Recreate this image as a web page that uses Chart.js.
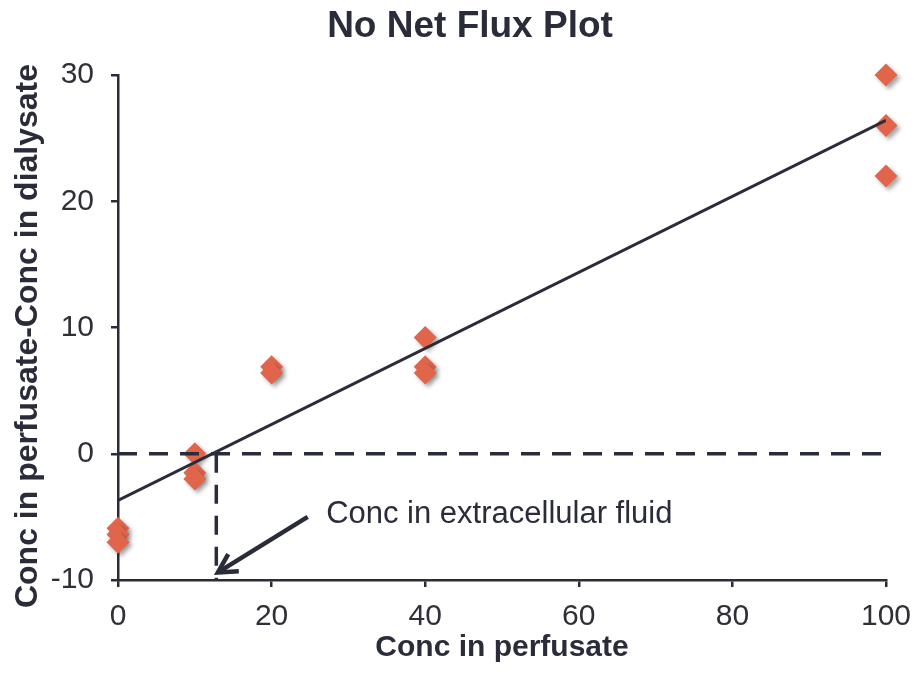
<!DOCTYPE html>
<html lang="en">
<head>
<meta charset="UTF-8">
<title>No Net Flux Plot</title>
<script src="https://cdn.jsdelivr.net/npm/chart.js"></script>
<style>
  html, body { margin: 0; padding: 0; background: #fff; }
  .wrap { width: 918px; height: 675px; position: relative; }
</style>
</head>
<body>
<div class="wrap"><canvas id="flux"></canvas></div>
<script>
// measured points: concentration in perfusate vs (perfusate - dialysate)
const concPerfusate = [0, 0, 0, 10, 10, 10, 20, 20, 40, 40, 40, 100, 100, 100];
const concDifference = [-5.9, -6.4, -7.0, 0.0, -1.5, -2.0, 6.9, 6.4, 9.2, 6.9, 6.4, 30, 26, 22];

// linear fit end points
const trendX = [0, 100];
const trendY = [-3.7, 26.4];

// zero-flux point (conc in extracellular fluid)
const ecfConc = 12.8;

const xTicks = [0, 20, 40, 60, 80, 100];
const yTicks = [-10, 0, 10, 20, 30];

const INK = '#2b2c3a';
const MARK = '#e0654b';
const FONT = '"Liberation Sans", Arial, Helvetica, sans-serif';

const points = concPerfusate.map((x, i) => ({ x: x, y: concDifference[i] }));
const trend = trendX.map((x, i) => ({ x: x, y: trendY[i] }));

// titles, arrow label and soft shadow under the diamonds
const extras = {
  id: 'extras',
  beforeDatasetDraw(chart, args) {
    if (args.index !== 3) return;
    const ctx = chart.ctx;
    ctx.save();
    ctx.shadowColor = 'rgba(0,0,0,0.35)';
    ctx.shadowBlur = 4;
    ctx.shadowOffsetX = 3;
    ctx.shadowOffsetY = 3;
  },
  afterDatasetDraw(chart, args) {
    if (args.index !== 3) return;
    chart.ctx.restore();
  },
  afterDraw(chart) {
    const ctx = chart.ctx;
    const xs = chart.scales.x, ys = chart.scales.y;
    ctx.save();
    ctx.fillStyle = INK;
    ctx.font = 'bold 37px ' + FONT;
    ctx.textAlign = 'center';
    ctx.textBaseline = 'middle';
    ctx.fillText('No Net Flux Plot', 470, 27);

    // y axis title, rotated
    ctx.save();
    ctx.translate(28, 336);
    ctx.rotate(-Math.PI / 2);
    ctx.font = 'bold 32px ' + FONT;
    ctx.fillText('Conc in perfusate-Conc in dialysate', 0, 0);
    ctx.restore();

    // arrow pointing at the zero-flux concentration
    const tailX = xs.getPixelForValue(24.7), tailY = ys.getPixelForValue(-5.0);
    const tipX = xs.getPixelForValue(13.0), tipY = ys.getPixelForValue(-9.4);
    const ang = Math.atan2(tailY - tipY, tailX - tipX);
    const barb = 21, spread = 0.5;
    ctx.strokeStyle = INK;
    ctx.lineWidth = 4.5;
    ctx.lineCap = 'butt';
    ctx.lineJoin = 'miter';
    ctx.beginPath();
    ctx.moveTo(tailX, tailY);
    ctx.lineTo(tipX + 2 * Math.cos(ang), tipY + 2 * Math.sin(ang));
    ctx.stroke();
    ctx.beginPath();
    ctx.moveTo(tipX + barb * Math.cos(ang - spread), tipY + barb * Math.sin(ang - spread));
    ctx.lineTo(tipX, tipY);
    ctx.lineTo(tipX + barb * Math.cos(ang + spread), tipY + barb * Math.sin(ang + spread));
    ctx.stroke();

    ctx.font = '31px ' + FONT;
    ctx.textAlign = 'left';
    ctx.textBaseline = 'alphabetic';
    ctx.fillText('Conc in extracellular fluid', xs.getPixelForValue(27.1), ys.getPixelForValue(-5.47));
    ctx.restore();
  }
};

new Chart(document.getElementById('flux'), {
  type: 'scatter',
  data: {
    datasets: [
      {
        label: 'fit',
        type: 'line',
        data: trend,
        borderColor: INK,
        borderWidth: 3,
        pointRadius: 0,
        fill: false,
        order: 0
      },
      {
        label: 'zero line',
        type: 'line',
        data: [{ x: xTicks[0], y: 0 }, { x: xTicks[xTicks.length - 1], y: 0 }],
        borderColor: INK,
        borderWidth: 3.5,
        borderDash: [19, 12],
        pointRadius: 0,
        fill: false,
        order: 1
      },
      {
        label: 'ecf drop',
        type: 'line',
        data: [{ x: ecfConc, y: 0 }, { x: ecfConc, y: yTicks[0] }],
        borderColor: INK,
        borderWidth: 3.5,
        borderDash: [19, 12],
        pointRadius: 0,
        fill: false,
        order: 1
      },
      {
        label: 'samples',
        data: points,
        pointStyle: 'rectRot',
        pointRadius: 11.5,
        pointHoverRadius: 11.5,
        backgroundColor: MARK,
        borderColor: MARK,
        borderWidth: 0,
        clip: false,
        order: 2
      }
    ]
  },
  options: {
    responsive: true,
    maintainAspectRatio: false,
    animation: false,
    layout: { padding: { top: 75, right: 32, left: 0, bottom: 0 } },
    plugins: {
      legend: { display: false },
      tooltip: { enabled: false },
      title: { display: false }
    },
    scales: {
      x: {
        type: 'linear',
        min: 0,
        max: 100,
        afterBuildTicks: s => { s.ticks = xTicks.map(v => ({ value: v })); },
        afterFit: s => { s.height = 95; s.paddingLeft = 0; s.paddingRight = 0; },
        border: { color: INK, width: 2.5 },
        grid: { drawOnChartArea: false, drawTicks: true, tickLength: 7, color: INK, lineWidth: 2.5 },
        ticks: { color: '#2f2f38', padding: 12, font: { family: FONT, size: 30 } },
        title: {
          display: true,
          text: 'Conc in perfusate',
          color: INK,
          font: { family: FONT, size: 30, weight: 'bold' },
          padding: { top: 0, bottom: 9 }
        }
      },
      y: {
        type: 'linear',
        min: -10,
        max: 30,
        afterBuildTicks: s => { s.ticks = yTicks.map(v => ({ value: v })); },
        afterFit: s => { s.width = 118; },
        border: { color: INK, width: 2.5 },
        grid: { drawOnChartArea: false, drawTicks: true, tickLength: 7, color: INK, lineWidth: 2.5 },
        ticks: { color: '#2f2f38', padding: 17, font: { family: FONT, size: 30 } },
        title: { display: false }
      }
    }
  },
  plugins: [extras]
});
</script>
</body>
</html>
